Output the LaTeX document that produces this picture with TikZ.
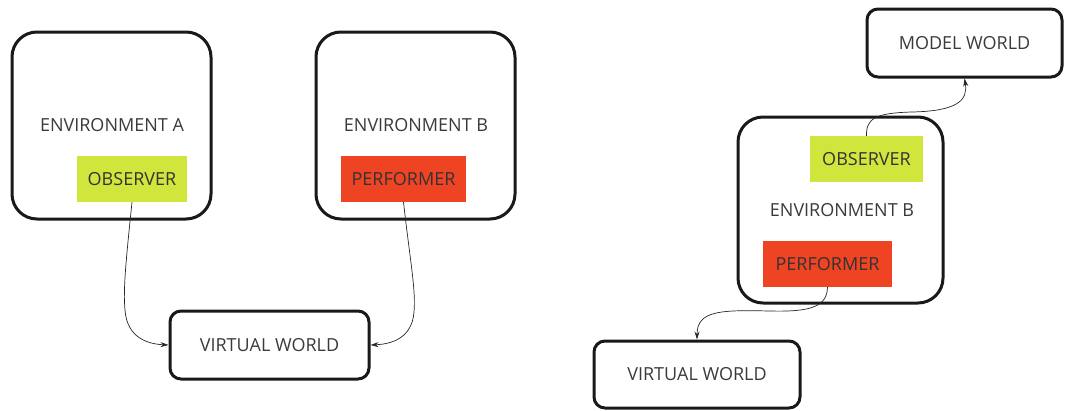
\documentclass[tikz,border=0pt]{standalone}
\usepackage{fontspec}
\setmainfont{Open Sans}
\usetikzlibrary{arrows.meta}
\definecolor{lime}{HTML}{D0E63C}
\definecolor{redbox}{HTML}{EE4424}
\definecolor{txt}{HTML}{3A3A3A}
\tikzset{
  envbox/.style={draw=black!90, line width=3pt, rounded corners=25pt, minimum width=#1},
  worldbox/.style={draw=black!90, line width=3pt, rounded corners=11pt, text=txt, font=\fontsize{18}{20}\selectfont},
  label/.style={text=txt, font=\fontsize{18}{20}\selectfont},
  obsbox/.style={fill=lime, text=black!80, font=\fontsize{18}{20}\selectfont, inner sep=0pt},
  perfbox/.style={fill=redbox, text=black!80, font=\fontsize{18}{20}\selectfont, inner sep=0pt},
  arr/.style={-{Stealth[length=8pt,width=5pt]}, line width=0.7pt, black!85}
}
\begin{document}
\begin{tikzpicture}[x=1pt,y=-1pt]
\useasboundingbox (0,0) rectangle (1065,410);
% left side
\node[envbox=199pt, minimum height=187pt] (envA) at (111.5,125.5) {};
\node[label] (envAt) at (112,125) {ENVIRONMENT A};
\node[obsbox, minimum width=110pt, minimum height=46pt] (obsA) at (132,179) {OBSERVER};
\node[envbox=199pt, minimum height=187pt] (envB) at (415.5,125.5) {};
\node[label] (envBt) at (416,125) {ENVIRONMENT B};
\node[perfbox, minimum width=125pt, minimum height=46pt] (perfA) at (403.5,179) {PERFORMER};
\node[worldbox, minimum width=199pt, minimum height=68pt] (vwA) at (269.5,345) {VIRTUAL WORLD};
\draw[arr] (obsA.south) .. controls (126,260) and (123,290) .. (125,310) .. controls (127,338) and (148,344) .. (vwA.west);
\draw[arr] (perfA.south) .. controls (410,260) and (416,290) .. (414,312) .. controls (412,338) and (392,344) .. (vwA.east);
% right side
\node[worldbox, minimum width=195pt, minimum height=68pt] (mw) at (964.5,43) {MODEL WORLD};
\node[envbox=205pt, minimum height=186pt] (envC) at (840.5,210) {};
\node[label] (envCt) at (842,210) {ENVIRONMENT B};
\node[obsbox, minimum width=113pt, minimum height=46pt] (obsB) at (866.5,159) {OBSERVER};
\node[perfbox, minimum width=129pt, minimum height=46pt] (perfB) at (827.5,264) {PERFORMER};
\node[worldbox, minimum width=206pt, minimum height=67pt] (vwB) at (697,374.5) {VIRTUAL WORLD};
\draw[arr] (obsB.north) .. controls (866,118) and (876,113) .. (912,112) .. controls (958,111) and (968,100) .. (mw.south);
\draw[arr] (perfB.south) .. controls (827,307) and (810,312) .. (770,311) .. controls (722,310) and (697,310) .. (vwB.north);
\end{tikzpicture}
\end{document}
